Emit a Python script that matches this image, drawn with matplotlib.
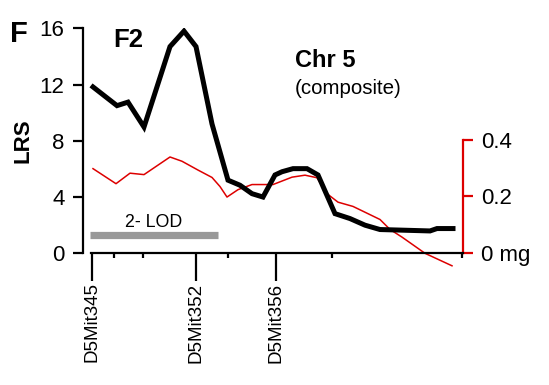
import matplotlib
matplotlib.use("Agg")
import matplotlib.pyplot as plt

plt.rcParams['font.family'] = ['Liberation Sans', 'DejaVu Sans']

# ---- data ----
lrs_pos = [0.1, 2.5, 3.6, 5.2, 7.8, 9.2, 10.4, 12.0, 13.6, 14.8, 16.0, 17.1,
           18.3, 19.0, 20.1, 21.5, 22.6, 24.3, 25.8, 27.3, 28.8, 33.8, 34.5, 36.1]
lrs_val = [11.83, 10.5, 10.75, 8.98, 14.7, 15.8, 14.7, 9.2, 5.2, 4.84, 4.24, 4.0,
           5.57, 5.8, 6.02, 6.02, 5.57, 2.82, 2.47, 2.0, 1.69, 1.59, 1.76, 1.76]

mg_pos = [0.1, 2.4, 3.8, 5.2, 7.8, 9.0, 10.6, 12.0, 12.8, 13.5, 14.6, 16.0,
          18.1, 20.0, 21.3, 22.5, 23.5, 24.6, 26.1, 27.1, 28.8, 29.8, 31.0, 33.3, 36.0]
mg_val = [0.298, 0.245, 0.282, 0.277, 0.339, 0.324, 0.293, 0.267, 0.235, 0.198,
          0.224, 0.242, 0.242, 0.268, 0.275, 0.266, 0.210, 0.180, 0.165, 0.148,
          0.119, 0.084, 0.057, 0.0, -0.044]

marker_pos = [0.0, 10.4, 18.4]
marker_labels = ['D5Mit345', 'D5Mit352', 'D5Mit356']
minor_pos = [2.2, 5.1, 13.6, 24.0, 37.05]

lod_start, lod_end, lod_level = -0.2, 12.6, 1.3

lrs_ticks = [0, 4, 8, 12, 16]
mg_ticks = [0, 0.2, 0.4]
mg_ticklabels = ['0 mg', '0.2', '0.4']

# ---- figure ----
W, H = 549, 385
fig = plt.figure(figsize=(W / 100, H / 100), dpi=100)
ax = fig.add_axes([83.3 / W, 1 - 253.3 / H, (462.7 - 83.3) / W, (253.3 - 28.3) / H])
ax.set_xlim(-0.87, 37.07)
ax.set_ylim(0, 16)
ax.patch.set_alpha(0)

red = '#dd0000'

ax2 = ax.twinx()
ax2.set_ylim(0, 0.792)
ax2.plot(mg_pos, mg_val, color=red, lw=1.1, clip_on=False, zorder=2)

ax.set_zorder(ax2.get_zorder() + 1)
ax.plot(lrs_pos, lrs_val, color='black', lw=3.6, solid_joinstyle='miter', zorder=3)
ax.plot([lod_start, lod_end], [lod_level, lod_level], color='#999999', lw=5.2,
        solid_capstyle='butt', zorder=2)
ax.text(6.2, 1.85, '2- LOD', fontsize=12.8, ha='center', va='baseline')

# spines
for s in ['top', 'right']:
    ax.spines[s].set_visible(False)
for s in ['top', 'left', 'bottom']:
    ax2.spines[s].set_visible(False)
ax.spines['left'].set_linewidth(1.6)
ax.spines['bottom'].set_linewidth(1.6)
ax.spines['left'].set_bounds(0, 16)
ax.spines['bottom'].set_bounds(-0.1, 37.07)
ax2.spines['right'].set_color(red)
ax2.spines['right'].set_linewidth(1.6)
ax2.spines['right'].set_bounds(0, 0.4)

ax.set_yticks(lrs_ticks)
ax.tick_params(axis='y', direction='out', length=7.5, width=1.6, pad=6, labelsize=16)
ax.set_xticks(marker_pos)
ax.set_xticklabels(marker_labels, rotation=90, fontsize=13.5)
ax.set_xticks(minor_pos, minor=True)
ax.tick_params(axis='x', which='major', direction='out', length=20, width=1.6, pad=1)
ax.tick_params(axis='x', which='minor', direction='out', length=3.8, width=1.6)

ax2.set_yticks(mg_ticks)
ax2.set_yticklabels(mg_ticklabels)
ax2.tick_params(axis='y', direction='out', length=7.5, width=1.6, pad=6,
                labelsize=16, color=red)

# labels / annotations
fig.text(10 / W, 1 - 42 / H, 'F', fontsize=21, fontweight='bold', va='baseline')
fig.text(23.5 / W, 1 - 141 / H, 'LRS', fontsize=16, fontweight='bold',
         rotation=90, ha='center', va='center')
fig.text(113 / W, 1 - 47 / H, 'F2', fontsize=18.5, fontweight='bold', va='baseline')
fig.text(295 / W, 1 - 67 / H, 'Chr 5', fontsize=17, fontweight='bold', va='baseline')
fig.text(295 / W, 1 - 89 / H, '(composite)', fontsize=14.8, va='center')

fig.savefig('out.png', dpi=100)
